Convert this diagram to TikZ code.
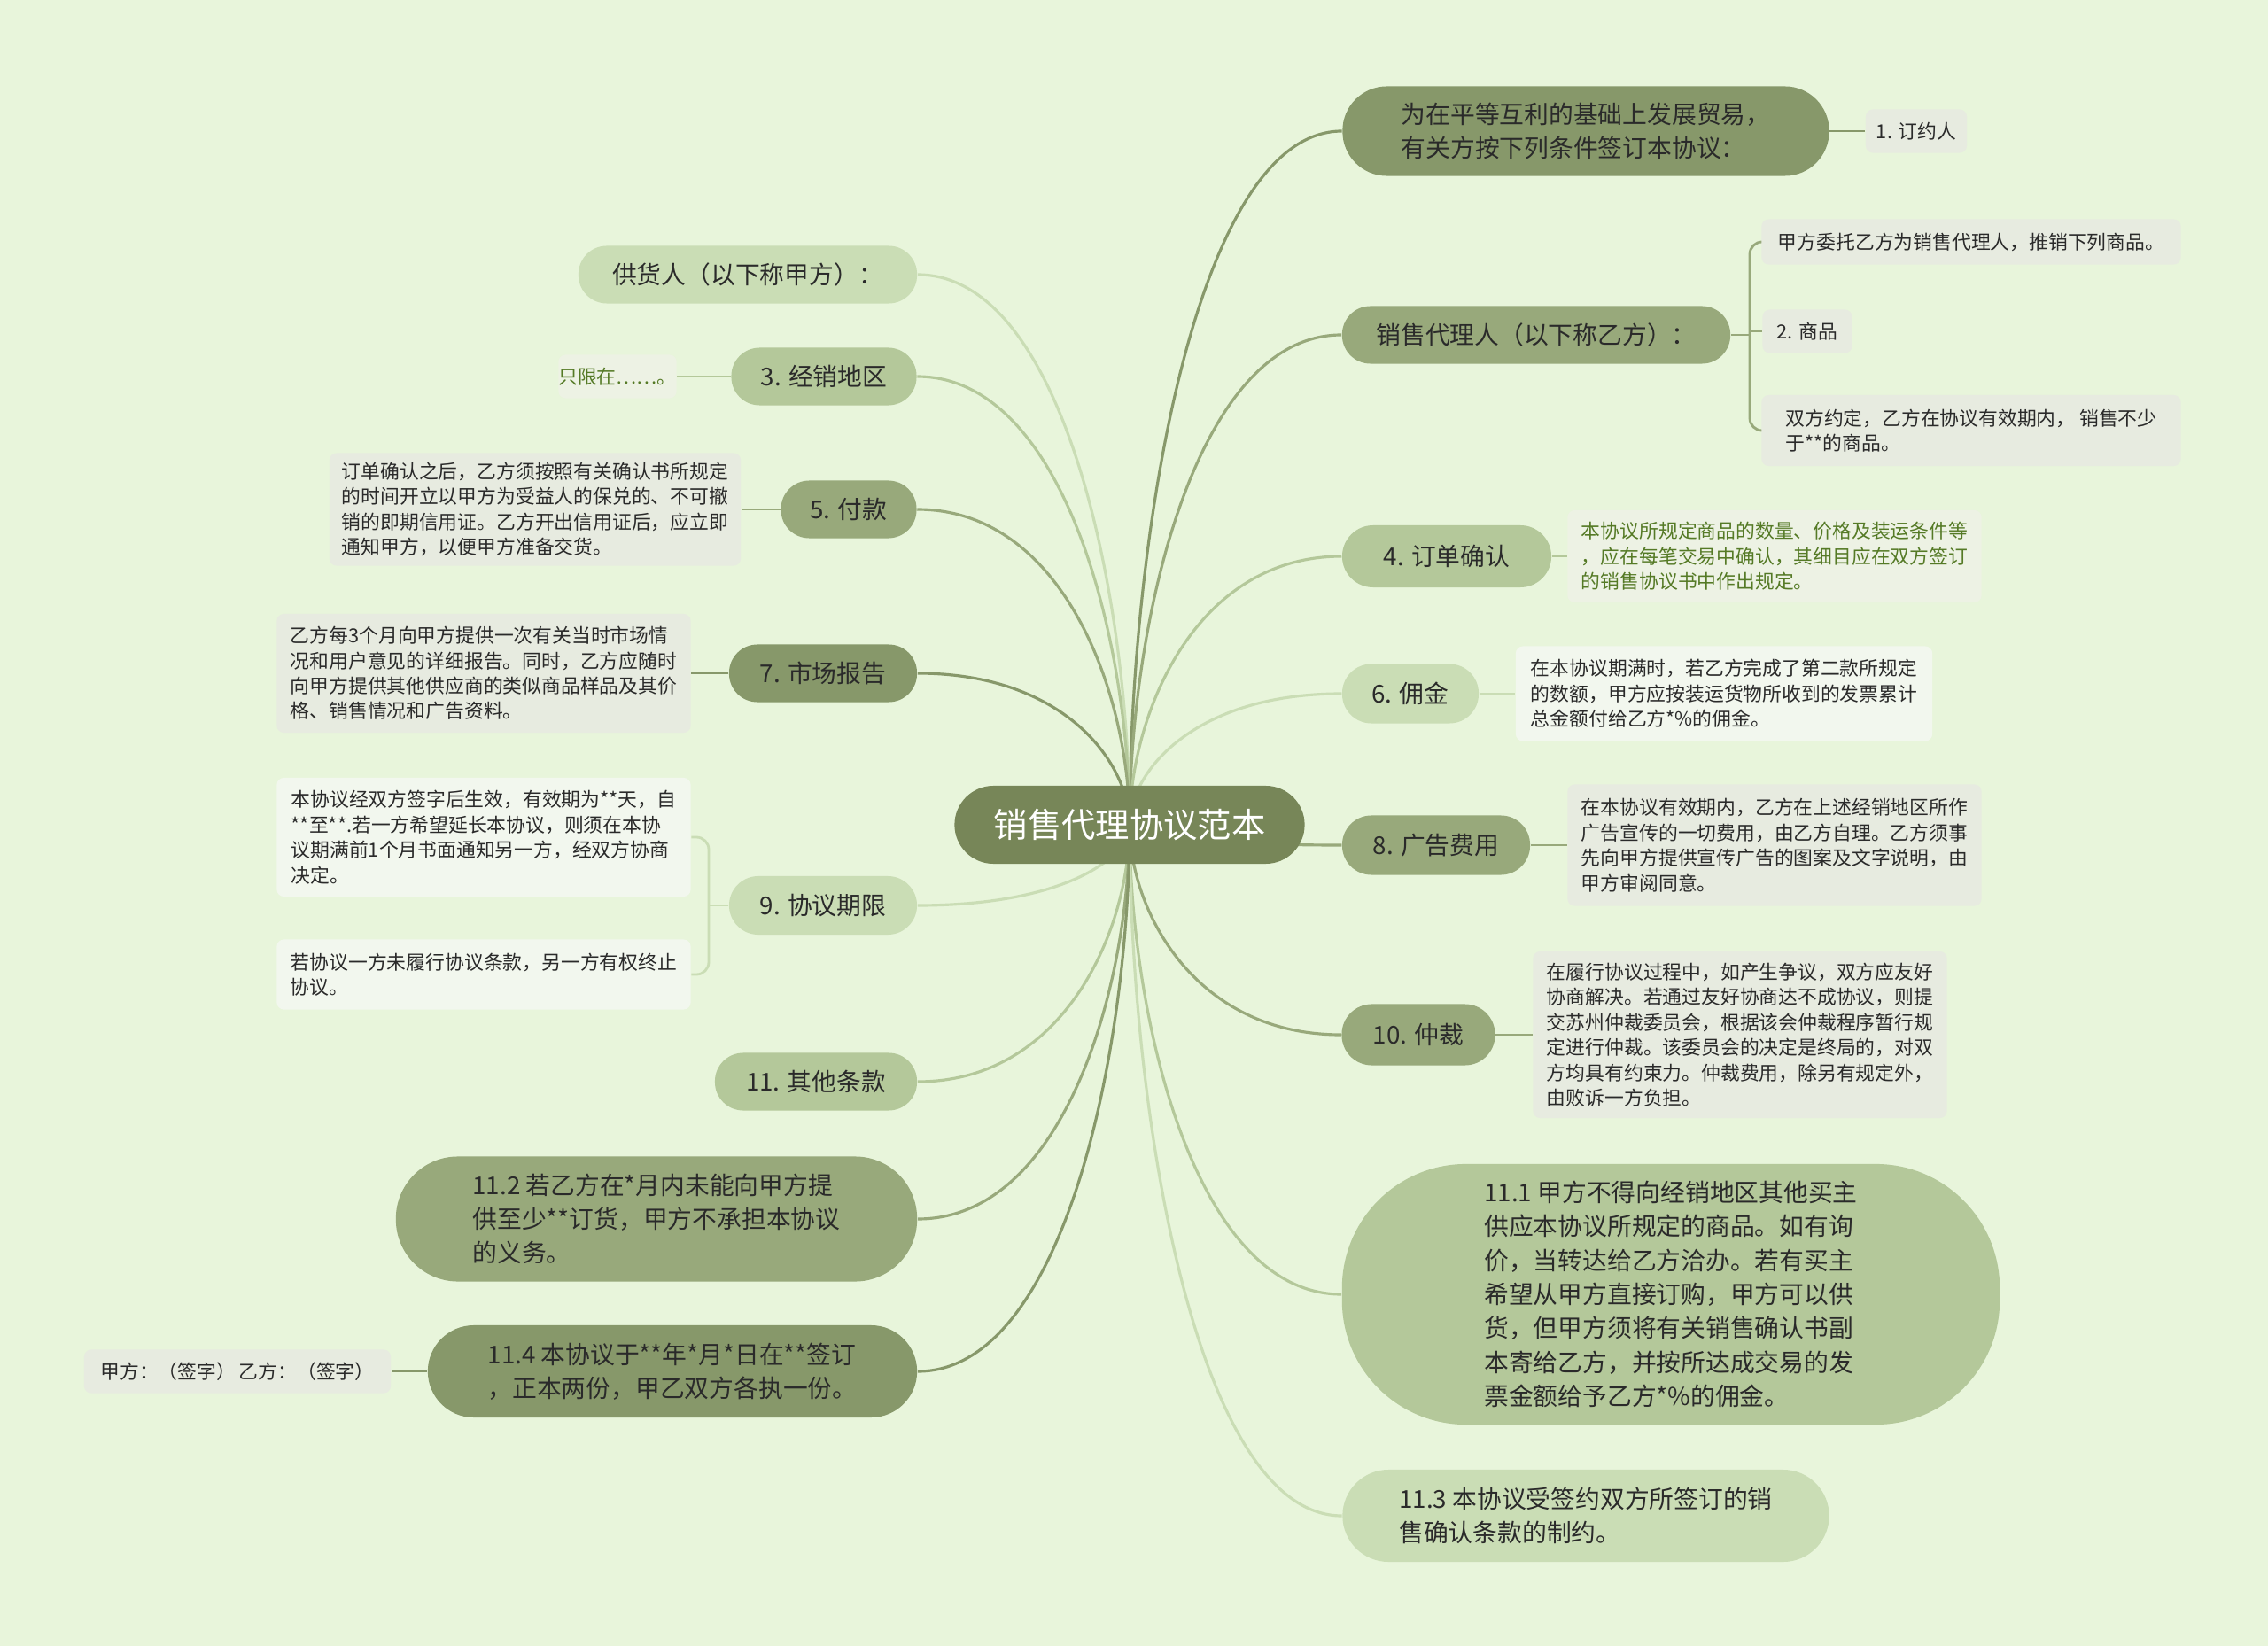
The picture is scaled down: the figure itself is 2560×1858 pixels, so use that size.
\documentclass[tikz,border=0pt]{standalone}
\usepackage{fontspec}
\setmainfont{Noto Sans CJK SC}
\usetikzlibrary{calc}
\definecolor{mmBack} {HTML}{E8F5DB}
\definecolor{mmRoot} {HTML}{778658}
\definecolor{mmDark} {HTML}{87986A}
\definecolor{mmMid}  {HTML}{98A97B}
\definecolor{mmLight}{HTML}{B4C89A}
\definecolor{mmPale} {HTML}{CADDB5}
\definecolor{mmGrey} {HTML}{E7EBE0}
\definecolor{mmTint} {HTML}{EDF2E4}
\definecolor{mmWhite}{HTML}{F2F7EE}
\definecolor{mmInk}  {HTML}{2A2A2A}
\definecolor{mmLeafInk}{HTML}{557A26}
\pgfdeclarelayer{bg}
\pgfdeclarelayer{links}
\pgfsetlayers{bg,links,main}

\begin{document}
\begin{tikzpicture}[x=0.01cm,y=-0.01cm,
      root/.style={fill=mmRoot,text=white,rounded corners=0.44cm,inner sep=0pt,
                   minimum width=3.95cm,minimum height=0.88cm,
                   font=\fontsize{10.9}{13}\selectfont},
      topic/.style={text=mmInk,align=left,inner sep=0pt,
                    font=\fontsize{7.9}{10.9}\selectfont},
      leaf/.style={text=mmInk,align=left,inner sep=0pt,rounded corners=0.08cm,
                   font=\fontsize{6.2}{8.1}\selectfont},
      dims/.style 2 args={minimum width=#1cm,minimum height=#2cm},
      link/.style={line width=0.9pt},
      twig/.style={line width=0.8pt}]

  \begin{pgfonlayer}{bg}
    \fill[mmBack] (0,0) rectangle (2560,1858);
  \end{pgfonlayer}

  \node[root] (root) at (1275,931) {销售代理协议范本};

  % right side
  \node[topic,fill=mmDark,dims={5.49}{1.01},rounded corners=0.5cm] (n1) at (1790,148)
    {为在平等互利的基础上发展贸易，\\有关方按下列条件签订本协议：};
  \node[leaf,fill=mmGrey,dims={1.14}{0.49}] (l1) at (2163,148) {1. 订约人};

  \node[topic,fill=mmMid,dims={4.38}{0.65},rounded corners=0.32cm] (n2) at (1734,378)
    {销售代理人（以下称乙方）：};
  \node[leaf,fill=mmGrey,dims={4.73}{0.51}] (l2a) at (2225,273) {甲方委托乙方为销售代理人，推销下列商品。};
  \node[leaf,fill=mmGrey,dims={1.01}{0.49}] (l2b) at (2040,374) {2. 商品};
  \node[leaf,fill=mmGrey,dims={4.73}{0.80}] (l2c) at (2225,486)
    {双方约定，乙方在协议有效期内， 销售不少\\于**的商品。};

  \node[topic,fill=mmLight,dims={2.36}{0.70},rounded corners=0.35cm] (n4) at (1633,628) {4. 订单确认};
  \node[leaf,fill=mmTint,text=mmLeafInk,dims={4.67}{1.04}] (l4) at (2003,628)
    {本协议所规定商品的数量、价格及装运条件等\\，应在每笔交易中确认，其细目应在双方签订\\的销售协议书中作出规定。};

  \node[topic,fill=mmPale,dims={1.54}{0.67},rounded corners=0.33cm] (n6) at (1592,783) {6. 佣金};
  \node[leaf,fill=mmWhite,dims={4.70}{1.07}] (l6) at (1946,783)
    {在本协议期满时，若乙方完成了第二款所规定\\的数额，甲方应按装运货物所收到的发票累计\\总金额付给乙方*\%的佣金。};

  \node[topic,fill=mmMid,dims={2.12}{0.67},rounded corners=0.33cm] (n8) at (1621,954) {8. 广告费用};
  \node[leaf,fill=mmGrey,dims={4.67}{1.37}] (l8) at (2003,954)
    {在本协议有效期内，乙方在上述经销地区所作\\广告宣传的一切费用，由乙方自理。乙方须事\\先向甲方提供宣传广告的图案及文字说明，由\\甲方审阅同意。};

  \node[topic,fill=mmMid,dims={1.73}{0.69},rounded corners=0.34cm] (n10) at (1601,1168) {10. 仲裁};
  \node[leaf,fill=mmGrey,dims={4.67}{1.88}] (l10) at (1964,1168)
    {在履行协议过程中，如产生争议，双方应友好\\协商解决。若通过友好协商达不成协议，则提\\交苏州仲裁委员会，根据该会仲裁程序暂行规\\定进行仲裁。该委员会的决定是终局的，对双\\方均具有约束力。仲裁费用，除另有规定外，\\由败诉一方负担。};

  \node[topic,fill=mmLight,dims={7.42}{2.94},rounded corners=1.4cm] (n111) at (1886,1461)
    {11.1 甲方不得向经销地区其他买主\\供应本协议所规定的商品。如有询\\价，当转达给乙方洽办。若有买主\\希望从甲方直接订购，甲方可以供\\货，但甲方须将有关销售确认书副\\本寄给乙方，并按所达成交易的发\\票金额给予乙方*\%的佣金。};

  \node[topic,fill=mmPale,dims={5.49}{1.04},rounded corners=0.52cm] (n113) at (1790,1711)
    {11.3 本协议受签约双方所签订的销\\售确认条款的制约。};

  % left side
  \node[topic,fill=mmPale,dims={3.82}{0.65},rounded corners=0.32cm] (m0) at (844,310)
    {供货人（以下称甲方）：};

  \node[topic,fill=mmLight,dims={2.09}{0.65},rounded corners=0.32cm] (m3) at (930,425) {3. 经销地区};
  \node[leaf,fill=mmTint,text=mmLeafInk,dims={1.27}{0.49}] (k3) at (697,425) {只限在……。};

  \node[topic,fill=mmMid,dims={1.53}{0.65},rounded corners=0.32cm] (m5) at (958,575) {5. 付款};
  \node[leaf,fill=mmGrey,dims={4.64}{1.27}] (k5) at (604,575)
    {订单确认之后，乙方须按照有关确认书所规定\\的时间开立以甲方为受益人的保兑的、不可撤\\销的即期信用证。乙方开出信用证后，应立即\\通知甲方，以便甲方准备交货。};

  \node[topic,fill=mmDark,dims={2.12}{0.65},rounded corners=0.32cm] (m7) at (929,760) {7. 市场报告};
  \node[leaf,fill=mmGrey,dims={4.67}{1.34}] (k7) at (546,760)
    {乙方每3个月向甲方提供一次有关当时市场情\\况和用户意见的详细报告。同时，乙方应随时\\向甲方提供其他供应商的类似商品样品及其价\\格、销售情况和广告资料。};

  \node[topic,fill=mmPale,dims={2.12}{0.66},rounded corners=0.33cm] (m9) at (929,1022) {9. 协议期限};
  \node[leaf,fill=mmWhite,dims={4.67}{1.34}] (k9a) at (546,945)
    {本协议经双方签字后生效，有效期为**天，自\\**至**.若一方希望延长本协议，则须在本协\\议期满前1个月书面通知另一方，经双方协商\\决定。};
  \node[leaf,fill=mmWhite,dims={4.67}{0.79}] (k9b) at (546,1100)
    {若协议一方未履行协议条款，另一方有权终止\\协议。};

  \node[topic,fill=mmLight,dims={2.28}{0.65},rounded corners=0.32cm] (m11) at (921,1221) {11. 其他条款};

  \node[topic,fill=mmMid,dims={5.88}{1.41},rounded corners=0.7cm] (m112) at (741,1376)
    {11.2 若乙方在*月内未能向甲方提\\供至少**订货，甲方不承担本协议\\的义务。};

  \node[topic,fill=mmDark,dims={5.52}{1.04},rounded corners=0.52cm] (m114) at (759,1548)
    {11.4 本协议于**年*月*日在**签订\\，正本两份，甲乙双方各执一份。};
  \node[leaf,fill=mmGrey,dims={3.46}{0.49}] (k114) at (268,1548) {甲方：（签字）\,乙方：（签字）};

  \coordinate (b2) at (1975,378);
  \coordinate (b9) at (800,1022);

  \begin{pgfonlayer}{links}
    \foreach \t/\c in {n1/mmDark,n2/mmMid,n4/mmLight,n6/mmPale,n8/mmMid,n10/mmMid,n111/mmLight,n113/mmPale}
      \draw[link,\c] (root.center) .. controls ($(root.center)!0.4!(root.center |- \t.west)$)
        and ($(root.center |- \t.west)!0.3!(\t.west)$) .. (\t.west);
    \foreach \t/\c in {m0/mmPale,m3/mmLight,m5/mmMid,m7/mmDark,m9/mmPale,m11/mmLight,m112/mmMid,m114/mmDark}
      \draw[link,\c] (root.center) .. controls ($(root.center)!0.4!(root.center |- \t.east)$)
        and ($(root.center |- \t.east)!0.3!(\t.east)$) .. (\t.east);

    \foreach \a/\b/\c in {n1/l1/mmDark,n4/l4/mmLight,n6/l6/mmPale,n8/l8/mmMid,n10/l10/mmMid,
                          m3/k3/mmLight,m5/k5/mmMid,m7/k7/mmDark,m114/k114/mmDark}
      \draw[twig,\c] (\a) -- (\b);
    \draw[twig,mmMid] (n2.east) -- (b2) -- (l2b.west -| b2) -- (l2b.west);
    \draw[twig,mmMid,rounded corners=0.14cm] (l2a.west) -| (b2) |- (l2c.west);
    \draw[twig,mmPale] (m9.west) -- (b9);
    \draw[twig,mmPale,rounded corners=0.14cm] (k9a.east) -| (b9) |- (k9b.east);
  \end{pgfonlayer}
\end{tikzpicture}
\end{document}
